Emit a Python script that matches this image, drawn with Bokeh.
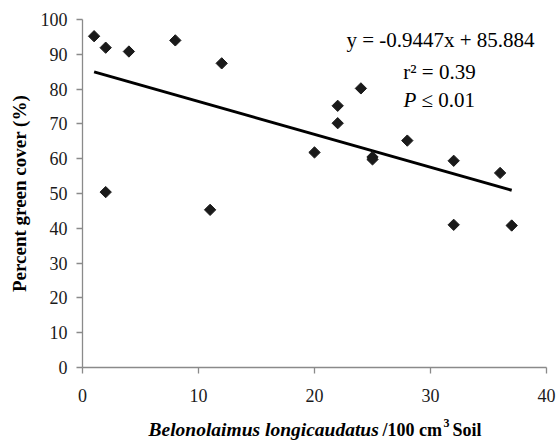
import numpy as np
from bokeh.plotting import figure
from bokeh.layouts import column
from bokeh.models import Label, Range1d, FixedTicker
from bokeh.embed import file_html
from bokeh.resources import INLINE

# ---- data ----
nematodes = [1, 2, 4, 8, 12, 2, 11, 24, 22, 22, 20, 25, 25, 28, 32, 36, 32, 37]
green_cover = [95.2, 91.9, 90.8, 94.0, 87.4, 50.4, 45.3, 80.2, 75.2, 70.2,
               61.8, 60.5, 59.8, 65.2, 59.4, 55.9, 41.0, 40.8]
slope = -0.9447
intercept = 85.884
x_ticks = [0, 10, 20, 30, 40]
y_ticks = [0, 10, 20, 30, 40, 50, 60, 70, 80, 90, 100]
eq_text = "y = -0.9447x + 85.884"
r2_text = "r\u00b2 = 0.39"
p_label = "P"
p_text = "\u2264 0.01"
y_title = "Percent green cover (%)"
x_title_species = "Belonolaimus longicaudatus"
x_title_unit = "/100 cm"
x_title_sup = "3"
x_title_tail = "Soil"

# ---- layout ----
FL, FT, FW, FH, FB, FR = 82, 19, 464, 348, 44, 12
H2 = 29
X0, X1, Y0, Y1 = 0, 40, 0, 100
FONT = "Liberation Serif"

p = figure(frame_width=FW, frame_height=FH,
           min_border_left=FL, min_border_right=FR,
           min_border_top=FT, min_border_bottom=FB,
           x_range=Range1d(X0, X1), y_range=Range1d(Y0, Y1),
           output_backend="svg", toolbar_location=None)

def px_x(px):
    return X0 + (px - FL) / FW * (X1 - X0)

def px_y(py):
    return Y0 + (FT + FH - py) / FH * (Y1 - Y0)

p.background_fill_color = "white"
p.border_fill_color = "white"
p.outline_line_color = None
p.xgrid.visible = False
p.ygrid.visible = False

AX = "#8a8a8a"
for ax in (p.xaxis[0], p.yaxis[0]):
    ax.axis_line_color = AX
    ax.axis_line_width = 1.3
    ax.major_tick_line_color = AX
    ax.major_tick_line_width = 1.3
    ax.major_tick_out = 6
    ax.major_tick_in = 0
    ax.minor_tick_line_color = None
    ax.major_label_text_font = FONT
    ax.major_label_text_font_size = "18px"
    ax.major_label_text_color = "#1a1a1a"
p.xaxis.ticker = FixedTicker(ticks=x_ticks)
p.yaxis.ticker = FixedTicker(ticks=y_ticks)
p.xaxis.major_label_standoff = 15
p.yaxis.major_label_standoff = 9

p.yaxis.axis_label = y_title
p.yaxis.axis_label_text_font = FONT
p.yaxis.axis_label_text_font_size = "19px"
p.yaxis.axis_label_text_font_style = "bold"
p.yaxis.axis_label_text_color = "black"
p.yaxis.axis_label_standoff = 8

# regression line
xs = [min(nematodes), max(nematodes)]
ys = [intercept + slope * v for v in xs]
p.line(xs, ys, line_color="black", line_width=3)

# points (diamonds)
p.scatter(nematodes, green_cover, marker="square", angle=np.pi / 4, size=8,
          fill_color="#1a1a1a", line_color="#1a1a1a")

def add_label(fig, text, x, y, size, style="normal", align="left"):
    fig.add_layout(Label(x=x, y=y, text=text, text_font=FONT,
                         text_font_size=size, text_font_style=style,
                         text_align=align, text_baseline="alphabetic",
                         text_color="black"))

# equation block (inside the frame)
add_label(p, eq_text, px_x(440), px_y(39), "21px", align="center")
add_label(p, r2_text, px_x(439), px_y(71), "21px", align="center")
add_label(p, p_label, px_x(403), px_y(99), "21px", style="italic")
add_label(p, p_text, px_x(421), px_y(99), "21px")

# x-axis title strip: frame aligned with the main frame, coordinates in pixels
p2 = figure(frame_width=FW, frame_height=H2,
            min_border_left=FL, min_border_right=FR,
            min_border_top=0, min_border_bottom=0,
            x_range=Range1d(FL, FL + FW), y_range=Range1d(H2, 0),
            x_axis_type=None, y_axis_type=None,
            output_backend="svg", toolbar_location=None)
p2.outline_line_color = None
p2.grid.visible = False
p2.background_fill_color = "white"
p2.border_fill_color = "white"

BASE = 18
add_label(p2, x_title_species, 148, BASE, "19.5px", style="bold italic")
add_label(p2, x_title_unit, 382, BASE, "18px", style="bold")
add_label(p2, x_title_sup, 443, BASE - 7, "12px", style="bold")
add_label(p2, x_title_tail, 452, BASE, "18px", style="bold")

layout = column(p, p2, spacing=0)
open("out.html", "w").write(file_html(layout, INLINE))
